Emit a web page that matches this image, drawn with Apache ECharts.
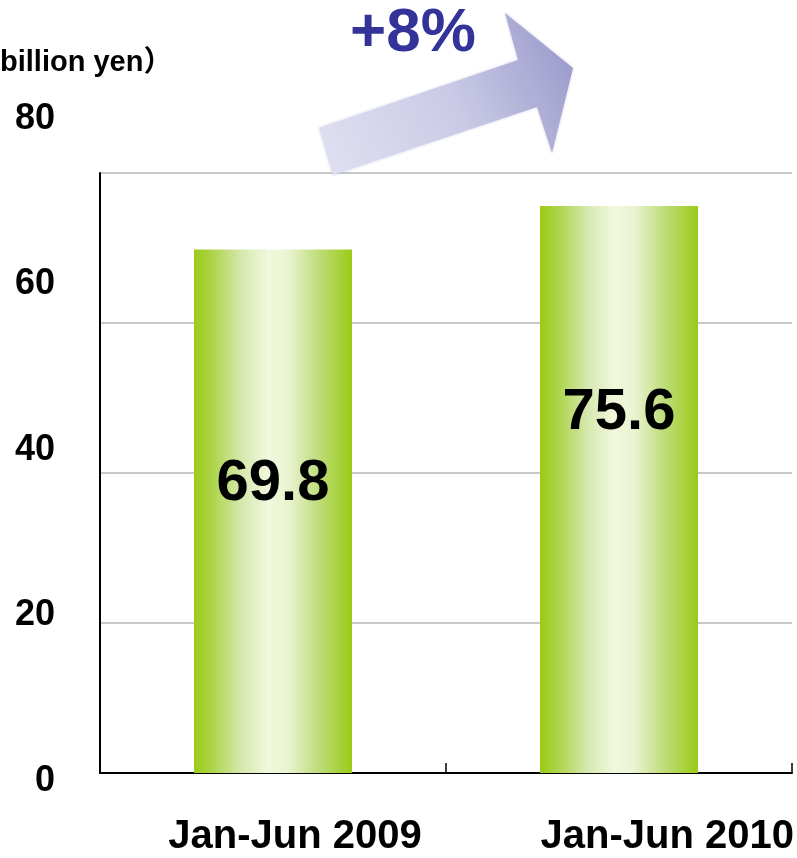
<!DOCTYPE html>
<html>
<head>
<meta charset="utf-8">
<title>Sales, Jan-Jun</title>
<script src="https://cdn.jsdelivr.net/npm/echarts@6/dist/echarts.min.js"></script>
<style>
  html, body { margin: 0; padding: 0; background: #ffffff; }
  #chart { width: 797px; height: 858px; }
</style>
</head>
<body>
<div id="chart"></div>
<script>
// Half-year sales, billion yen
const categories = ['Jan-Jun 2009', 'Jan-Jun 2010'];
const salesValues = [69.8, 75.6];
const yTicks = [0, 20, 40, 60, 80];
const unitLabel = 'billion yen）';
const growthLabel = '+8%';

const FONT = '"Liberation Sans", Arial, "Noto Sans CJK JP", sans-serif';

const barFill = new echarts.graphic.LinearGradient(0, 0, 1, 0, [
  { offset: 0.00, color: '#9bcb17' },
  { offset: 0.12, color: '#aed44c' },
  { offset: 0.30, color: '#d6e8ae' },
  { offset: 0.47, color: '#f1f8dd' },
  { offset: 0.60, color: '#e9f3d0' },
  { offset: 0.80, color: '#bcdb74' },
  { offset: 1.00, color: '#9bcb17' }
]);

// vertical nudges for the value labels inside each bar
const valueLabelShift = [-27, -77];

const yMin = yTicks[0];
const yMax = yTicks[yTicks.length - 1];
const yStep = yTicks[1] - yTicks[0];

const chart = echarts.init(document.getElementById('chart'), null, { renderer: 'canvas' });

chart.setOption({
  animation: false,
  backgroundColor: '#ffffff',
  grid: [
    // plot area
    { left: 100, top: 173, right: 5, bottom: 85 },
    // y tick labels
    { left: 100, top: 119, right: 5, bottom: 77 },
    // category labels, one at each end of this grid
    { left: 295, top: 173, right: 122, bottom: 85 }
  ],
  xAxis: [
    {
      type: 'category',
      gridIndex: 0,
      data: categories,
      boundaryGap: true,
      axisLine: { show: true, lineStyle: { color: '#000000', width: 2 } },
      axisTick: { show: true, inside: true, length: 10, lineStyle: { color: '#000000', width: 1.5 } },
      axisLabel: { show: false },
      splitLine: { show: false }
    },
    {
      type: 'category',
      gridIndex: 1,
      data: categories,
      show: false
    },
    {
      type: 'category',
      gridIndex: 2,
      data: categories,
      boundaryGap: false,
      axisLine: { show: false },
      axisTick: { show: false },
      splitLine: { show: false },
      axisLabel: {
        show: true,
        interval: 0,
        margin: 44,
        color: '#000000',
        fontFamily: FONT,
        fontWeight: 'bold',
        fontSize: 40
      }
    }
  ],
  yAxis: [
    {
      type: 'value',
      gridIndex: 0,
      min: yMin,
      max: yMax,
      interval: yStep,
      axisLine: { show: true, lineStyle: { color: '#000000', width: 2 } },
      axisTick: { show: false },
      axisLabel: { show: false },
      splitLine: { show: true, lineStyle: { color: '#c8c8c8', width: 2 } }
    },
    {
      type: 'value',
      gridIndex: 1,
      min: yMin,
      max: yMax,
      interval: yStep,
      axisLine: { show: false },
      axisTick: { show: false },
      splitLine: { show: false },
      axisLabel: {
        show: true,
        margin: 45,
        color: '#000000',
        fontFamily: FONT,
        fontWeight: 'bold',
        fontSize: 36
      }
    },
    {
      type: 'value',
      gridIndex: 2,
      min: yMin,
      max: yMax,
      show: false
    }
  ],
  series: [
    {
      type: 'bar',
      xAxisIndex: 0,
      yAxisIndex: 0,
      barWidth: 158,
      itemStyle: { color: barFill },
      label: {
        show: true,
        position: 'inside',
        color: '#000000',
        fontFamily: FONT,
        fontWeight: 'bold',
        fontSize: 58,
        formatter: (p) => p.value.toFixed(1)
      },
      data: salesValues.map((v, i) => ({
        value: v,
        label: { offset: [0, valueLabelShift[i]] }
      }))
    }
  ],
  graphic: [
    {
      type: 'polygon',
      z: 10,
      shape: {
        points: [
          [333, 175], [319, 128], [518, 60], [505, 13],
          [573, 68], [552, 153], [537, 107]
        ]
      },
      style: {
        fill: new echarts.graphic.LinearGradient(0, 1, 1, 0.3, [
          { offset: 0, color: '#e0e1f2' },
          { offset: 0.55, color: '#cacae6' },
          { offset: 1, color: '#9c9ccc' }
        ]),
        shadowBlur: 3,
        shadowColor: 'rgba(160,160,210,0.5)'
      }
    },
    {
      type: 'text',
      z: 11,
      x: 350,
      y: 34,
      style: {
        text: growthLabel,
        fill: '#333399',
        font: 'bold 62px ' + FONT,
        textAlign: 'left',
        textVerticalAlign: 'middle'
      }
    },
    {
      type: 'text',
      z: 11,
      x: 0,
      y: 63,
      style: {
        text: unitLabel,
        fill: '#000000',
        font: 'bold 29px ' + FONT,
        textAlign: 'left',
        textVerticalAlign: 'middle'
      }
    }
  ]
});
</script>
</body>
</html>
